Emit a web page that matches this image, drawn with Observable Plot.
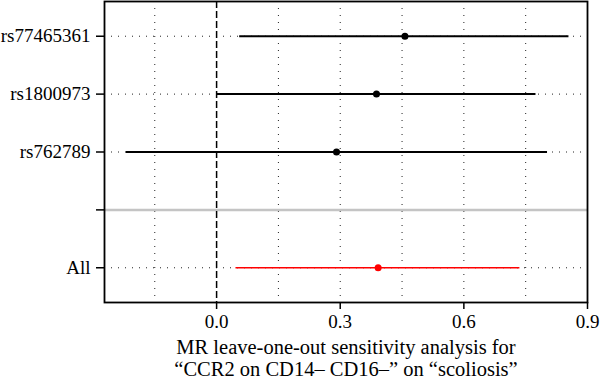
<!DOCTYPE html>
<html>
<head>
<meta charset="utf-8">
<script src="https://cdn.jsdelivr.net/npm/d3@7"></script>
<script src="https://cdn.jsdelivr.net/npm/@observablehq/plot@0.6"></script>
<style>
  html, body { margin: 0; padding: 0; background: #fff; }
</style>
</head>
<body>
<div id="chart"></div>
<script>
// Data
const snps = ["rs77465361", "rs1800973", "rs762789", "All"];
const rowPos = [5, 4, 3, 1];
const beta = [0.457, 0.388, 0.291, 0.392];
const lower = [0.056, 0.001, -0.219, 0.047];
const upper = [0.855, 0.775, 0.803, 0.736];
const colors = ["black", "black", "black", "red"];

const yTickPos = [5, 4, 3, 2, 1];
const yTickLabels = ["rs77465361", "rs1800973", "rs762789", "", "All"];
const xTicks = [0, 0.3, 0.6, 0.9];
const xGrid = [-0.15, 0.15, 0.3, 0.45, 0.6, 0.75];
const separatorRow = 2;
const axisTitle = "MR leave-one-out sensitivity analysis for\n\u201CCCR2 on CD14\u2013 CD16\u2013\u201D on \u201Cscoliosis\u201D";

const rows = snps.map((s, i) => ({snp: s, y: rowPos[i], b: beta[i], lo: lower[i], hi: upper[i], c: colors[i]}));
const gridRows = rowPos;

const chart = Plot.plot({
  width: 600,
  height: 379,
  marginLeft: 104,
  marginRight: 13,
  marginTop: 1,
  marginBottom: 77,
  style: {fontFamily: "'Liberation Serif', serif", fontSize: "19px", color: "black", background: "white"},
  x: {domain: [-0.272, 0.9]},
  y: {domain: [0.4, 5.6]},
  marks: [
    Plot.ruleX(xGrid, {x: d => d, stroke: "#222", strokeWidth: 1, strokeDasharray: "1,6"}),
    Plot.ruleY(gridRows, {y: d => d, stroke: "#222", strokeWidth: 1, strokeDasharray: "1,6"}),
    Plot.ruleY([separatorRow], {y: d => d, stroke: "#c4c4c4", strokeWidth: 2.5}),
    Plot.ruleX([0], {x: d => d, stroke: "black", strokeWidth: 1.5, strokeDasharray: "7,3"}),
    Plot.ruleY(rows, {y: "y", x1: "lo", x2: "hi", stroke: "c", strokeWidth: d => d.c === "red" ? 1.5 : 2}),
    Plot.dot(rows, {x: "b", y: "y", fill: "c", r: 3.5, stroke: null}),
    Plot.frame({stroke: "black", strokeWidth: 1.8}),
    Plot.axisX({ticks: xTicks, tickFormat: d3.format(".1f"), tickSize: 7, tickPadding: 5, strokeWidth: 1.5, label: null, fontSize: 19}),
    Plot.axisY({ticks: yTickPos, tickFormat: (d) => yTickLabels[yTickPos.indexOf(d)], tickSize: 8, tickPadding: 6, strokeWidth: 1.5, label: null, fontSize: 19}),
    Plot.text([axisTitle], {text: d => d, frameAnchor: "bottom", lineAnchor: "top", dy: 35, lineHeight: 1.1, fontSize: 20.5})
  ]
});
document.getElementById("chart").appendChild(chart);
</script>
</body>
</html>
